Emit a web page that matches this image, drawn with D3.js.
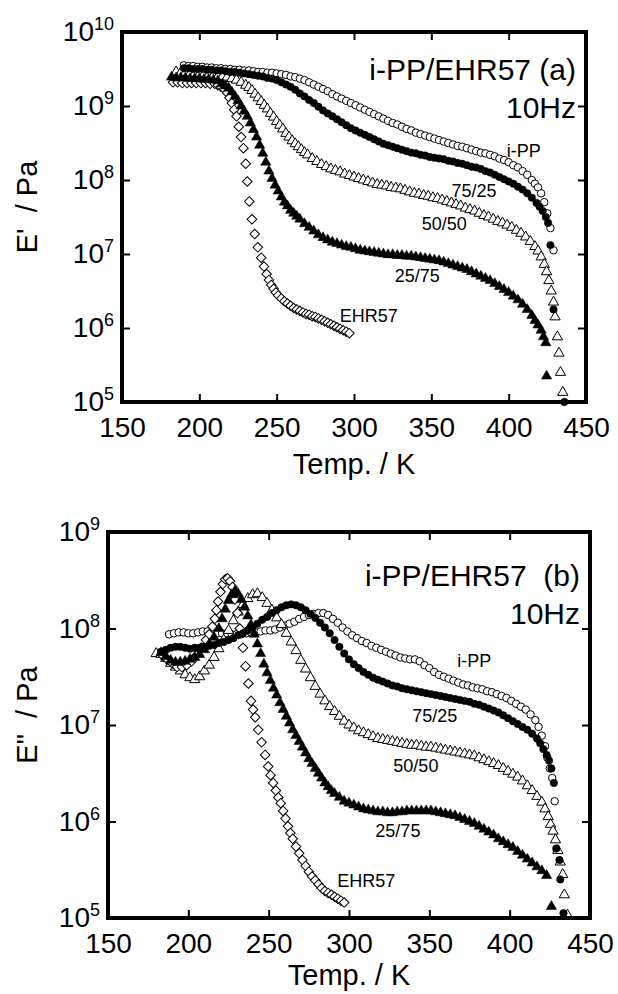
<!DOCTYPE html>
<html>
<head>
<meta charset="utf-8">
<script src="https://cdn.jsdelivr.net/npm/d3@7"></script>
<style>
  body { margin: 0; background: #fff; }
  svg text { font-family: "Liberation Sans", Arial, Helvetica, sans-serif; fill: #000; }
</style>
</head>
<body>
<svg id="chart" width="618" height="994"></svg>
<script>
// ---- data: [temperature K, log10(modulus / Pa)] ----

// (a) storage modulus E'
const storIPP = [
  [190,9.55],[193,9.54],[196,9.54],[199,9.53],[202,9.53],[205,9.52],[208,9.52],[211,9.51],[214,9.51],[217,9.50],
  [220,9.50],[223,9.49],[226,9.49],[229,9.48],[232,9.48],[235,9.47],[238,9.46],[241,9.46],[244,9.45],[247,9.45],
  [250,9.44],[253,9.43],[256,9.42],[259,9.40],[262,9.39],[265,9.37],[268,9.35],[271,9.32],[274,9.29],[277,9.26],
  [280,9.23],[283,9.20],[286,9.16],[289,9.13],[292,9.10],[295,9.07],[298,9.04],[301,9.01],[304,8.98],[307,8.95],
  [310,8.92],[313,8.89],[316,8.86],[319,8.83],[322,8.80],[325,8.77],[328,8.75],[331,8.72],[334,8.69],[337,8.67],
  [340,8.64],[343,8.62],[346,8.60],[349,8.58],[352,8.56],[355,8.54],[358,8.52],[361,8.50],[364,8.48],[367,8.46],
  [370,8.45],[373,8.43],[376,8.41],[379,8.39],[382,8.37],[385,8.36],[388,8.34],[391,8.32],[394,8.29],[397,8.27],
  [400,8.24],[403,8.20],[406,8.17],[409,8.12],[412,8.07],[415,8.00],[417,7.95],[419,7.90],[421,7.82],[423,7.70],
  [425,7.55],[427,7.35],[429,7.05]
];
const stor7525 = [
  [190,9.51],[193,9.51],[196,9.50],[199,9.50],[202,9.50],[205,9.49],[208,9.49],[211,9.48],[214,9.48],[217,9.47],
  [220,9.46],[223,9.46],[226,9.45],[229,9.44],[232,9.43],[235,9.42],[238,9.41],[241,9.40],[244,9.38],[247,9.37],
  [250,9.35],[253,9.32],[256,9.29],[259,9.26],[262,9.22],[265,9.17],[268,9.13],[271,9.08],[274,9.04],[277,8.99],
  [280,8.94],[283,8.90],[286,8.86],[289,8.82],[292,8.78],[295,8.74],[298,8.70],[301,8.67],[304,8.64],[307,8.61],
  [310,8.58],[313,8.55],[316,8.52],[319,8.49],[322,8.47],[325,8.45],[328,8.43],[331,8.41],[334,8.39],[337,8.37],
  [340,8.36],[343,8.34],[346,8.33],[349,8.31],[352,8.30],[355,8.29],[358,8.28],[361,8.26],[364,8.25],[367,8.23],
  [370,8.22],[373,8.20],[376,8.18],[379,8.17],[382,8.15],[385,8.12],[388,8.10],[391,8.07],[394,8.04],[397,8.01],
  [400,7.98],[403,7.95],[406,7.91],[409,7.87],[412,7.82],[415,7.76],[418,7.69],[420,7.64],[422,7.58],[424,7.50],
  [425.5,7.42],[427,7.12],[429,6.25],[436,5.0]
];
const stor5050 = [
  [185,9.46],[188,9.45],[191,9.45],[194,9.44],[197,9.44],[200,9.43],[203,9.43],[206,9.42],[209,9.41],[212,9.40],
  [215,9.40],[218,9.39],[221,9.37],[224,9.35],[227,9.32],[230,9.28],[232,9.25],[234,9.21],[236,9.16],[238,9.11],
  [240,9.06],[242,9.01],[244,8.96],[246,8.90],[248,8.85],[250,8.79],[252,8.74],[254,8.69],[256,8.63],[258,8.58],
  [260,8.53],[262,8.49],[264,8.45],[266,8.41],[268,8.37],[270,8.34],[273,8.29],[276,8.25],[279,8.21],[282,8.18],
  [285,8.15],[288,8.13],[291,8.11],[294,8.08],[297,8.06],[300,8.04],[303,8.02],[306,8.00],[309,7.98],[312,7.96],
  [315,7.94],[318,7.93],[321,7.92],[324,7.90],[327,7.89],[330,7.88],[333,7.86],[336,7.84],[339,7.82],[342,7.81],
  [345,7.79],[348,7.78],[351,7.76],[354,7.75],[357,7.73],[360,7.71],[363,7.69],[366,7.67],[369,7.65],[372,7.62],
  [375,7.60],[378,7.58],[381,7.55],[384,7.52],[387,7.50],[390,7.47],[393,7.44],[396,7.42],[399,7.39],[402,7.36],
  [405,7.32],[408,7.28],[411,7.23],[414,7.17],[417,7.10],[419,7.04],[421,6.96],[423,6.86],[424.5,6.76],[426,6.64],
  [427.5,6.50],[429,6.35],[430,6.15],[431.5,5.88],[432.5,5.66],[433.5,5.40],[435,5.13]
];
const stor2575 = [
  [182,9.39],[185,9.38],[188,9.38],[191,9.38],[194,9.37],[197,9.37],[200,9.37],[203,9.36],[206,9.36],[209,9.35],
  [212,9.34],[215,9.30],[217,9.27],[219,9.24],[221,9.19],[223,9.13],[225,9.07],[227,9.00],[229,8.93],[231,8.86],
  [233,8.77],[235,8.68],[237,8.58],[239,8.47],[241,8.36],[243,8.24],[245,8.12],[247,8.02],[249,7.93],[251,7.85],
  [253,7.77],[255,7.70],[257,7.65],[259,7.59],[261,7.55],[263,7.51],[265,7.47],[268,7.41],[271,7.36],[274,7.31],
  [277,7.26],[280,7.22],[283,7.19],[286,7.16],[289,7.14],[292,7.12],[295,7.10],[298,7.09],[301,7.07],[304,7.05],
  [307,7.04],[310,7.03],[313,7.02],[316,7.01],[319,7.00],[322,6.99],[325,6.99],[328,6.98],[331,6.98],[334,6.97],
  [337,6.97],[340,6.96],[343,6.95],[346,6.94],[349,6.93],[352,6.92],[355,6.91],[358,6.89],[361,6.87],[364,6.85],
  [367,6.83],[370,6.81],[373,6.79],[376,6.76],[379,6.73],[382,6.70],[385,6.67],[388,6.64],[391,6.60],[394,6.56],
  [397,6.52],[400,6.48],[403,6.43],[406,6.38],[409,6.32],[412,6.25],[415,6.17],[417,6.10],[419,6.04],[421,5.97],
  [422.5,5.88],[424,5.80],[424.5,5.35]
];
const storEHR = [
  [183,9.32],[186,9.32],[189,9.31],[192,9.31],[195,9.31],[198,9.31],[201,9.31],[204,9.31],[207,9.30],[210,9.30],
  [212,9.28],[214,9.26],[216,9.23],[218,9.18],[219.5,9.11],[221,9.04],[222.5,8.95],[224,8.86],[225.5,8.72],[227,8.58],
  [228.5,8.43],[230,8.22],[231,7.98],[232.3,7.71],[234,7.47],[235.8,7.27],[237.8,7.09],[240,6.95],[241.8,6.83],[243.5,6.73],
  [245,6.65],[246.5,6.58],[248,6.53],[249.5,6.48],[251,6.44],[253,6.40],[255,6.36],[257,6.33],[259,6.30],[261,6.27],
  [263,6.25],[265,6.23],[267,6.21],[269,6.19],[271,6.18],[273,6.16],[275,6.15],[277,6.13],[279,6.11],[281,6.09],
  [283,6.07],[285,6.05],[287,6.03],[289,6.01],[291,5.99],[293,5.97],[295,5.95],[297,5.93]
];

// (b) loss modulus E"
const lossIPP = [
  [188,7.94],[191,7.95],[194,7.96],[197,7.96],[200,7.95],[203,7.95],[206,7.96],[209,7.97],[212,7.97],[215,7.96],
  [218,7.95],[221,7.95],[224,7.95],[227,7.94],[230,7.94],[233,7.94],[236,7.95],[239,7.96],[242,7.96],[245,7.97],
  [248,7.98],[251,7.98],[254,7.99],[257,8.01],[260,8.03],[263,8.05],[266,8.07],[269,8.10],[272,8.12],[275,8.14],
  [278,8.15],[281,8.16],[284,8.16],[287,8.14],[290,8.10],[293,8.06],[296,8.01],[299,7.97],[302,7.93],[305,7.90],
  [308,7.87],[311,7.85],[314,7.82],[317,7.80],[320,7.78],[323,7.76],[326,7.74],[329,7.72],[332,7.70],[335,7.69],
  [338,7.68],[341,7.68],[344,7.66],[347,7.62],[350,7.59],[353,7.55],[356,7.52],[359,7.50],[362,7.48],[365,7.46],
  [368,7.44],[371,7.42],[374,7.41],[377,7.39],[380,7.38],[383,7.37],[386,7.35],[389,7.34],[392,7.32],[395,7.30],
  [398,7.28],[401,7.25],[404,7.22],[407,7.19],[410,7.16],[413,7.11],[416,7.05],[418,6.98],[420,6.89],[422,6.78],
  [423.5,6.66],[425,6.55],[426.5,6.45],[428,6.21]
];
const loss7525 = [
  [183,7.76],[186,7.78],[189,7.80],[192,7.81],[195,7.81],[198,7.80],[201,7.79],[204,7.80],[207,7.80],[210,7.81],
  [213,7.82],[216,7.83],[219,7.85],[222,7.86],[225,7.88],[228,7.90],[231,7.93],[234,7.95],[237,7.98],[240,8.01],
  [243,8.05],[246,8.09],[249,8.12],[252,8.16],[255,8.19],[258,8.22],[261,8.24],[264,8.25],[267,8.24],[270,8.22],
  [273,8.19],[276,8.15],[279,8.11],[282,8.06],[285,8.01],[288,7.95],[291,7.88],[294,7.81],[297,7.74],[300,7.68],
  [303,7.63],[306,7.59],[309,7.55],[312,7.52],[315,7.49],[318,7.47],[321,7.45],[324,7.43],[327,7.41],[330,7.40],
  [333,7.38],[336,7.37],[339,7.36],[342,7.35],[345,7.34],[348,7.33],[351,7.32],[354,7.31],[357,7.30],[360,7.29],
  [363,7.28],[366,7.27],[369,7.26],[372,7.25],[375,7.24],[378,7.22],[381,7.21],[384,7.19],[387,7.17],[390,7.15],
  [393,7.13],[396,7.10],[399,7.07],[402,7.04],[405,7.01],[408,6.98],[411,6.95],[414,6.91],[417,6.86],[419,6.81],
  [421,6.75],[423,6.69],[424.5,6.63],[426,6.55],[427.5,6.40],[429,5.72],[431,5.60],[431.5,5.40],[433.5,5.05]
];
const loss5050 = [
  [180,7.74],[183,7.73],[186,7.69],[189,7.64],[192,7.60],[195,7.56],[198,7.52],[201,7.49],[204,7.47],[207,7.50],
  [210,7.56],[213,7.62],[216,7.70],[219,7.79],[222,7.88],[225,7.98],[228,8.08],[231,8.17],[234,8.25],[237,8.31],
  [240,8.35],[243,8.36],[246,8.32],[249,8.26],[252,8.19],[255,8.11],[258,8.04],[261,7.95],[264,7.86],[267,7.77],
  [270,7.67],[273,7.58],[276,7.49],[279,7.40],[282,7.32],[285,7.25],[288,7.19],[291,7.14],[294,7.09],[297,7.04],
  [300,7.00],[303,6.97],[306,6.94],[309,6.92],[312,6.90],[315,6.88],[318,6.86],[321,6.85],[324,6.84],[327,6.83],
  [330,6.82],[333,6.81],[336,6.80],[339,6.79],[342,6.79],[345,6.78],[348,6.77],[351,6.77],[354,6.76],[357,6.75],
  [360,6.74],[363,6.73],[366,6.72],[369,6.71],[372,6.70],[375,6.69],[378,6.68],[381,6.66],[384,6.64],[387,6.62],
  [390,6.60],[393,6.58],[396,6.55],[399,6.52],[402,6.49],[405,6.46],[408,6.42],[411,6.37],[414,6.32],[417,6.26],
  [420,6.20],[422,6.13],[424,6.05],[425.5,5.97],[427,5.90],[428.5,5.81],[430,5.70],[431.5,5.58],[433,5.45],[434,5.24],
  [436,5.03]
];
const loss2575 = [
  [183,7.75],[186,7.71],[189,7.67],[192,7.65],[195,7.65],[198,7.66],[201,7.68],[204,7.70],[207,7.73],[210,7.78],
  [213,7.84],[216,7.91],[219,8.00],[221,8.10],[223,8.20],[225,8.29],[227,8.35],[229,8.39],[231,8.36],[233,8.30],
  [235,8.22],[237,8.13],[239,8.04],[241,7.94],[243,7.84],[245,7.74],[247,7.63],[249,7.54],[251,7.46],[253,7.38],
  [255,7.31],[257,7.23],[259,7.16],[261,7.09],[263,7.02],[265,6.95],[267,6.89],[269,6.83],[271,6.77],[273,6.71],
  [275,6.65],[277,6.60],[279,6.55],[281,6.50],[283,6.45],[285,6.40],[287,6.36],[289,6.32],[291,6.29],[294,6.25],
  [297,6.21],[300,6.19],[303,6.17],[306,6.15],[309,6.13],[312,6.12],[315,6.11],[318,6.10],[321,6.10],[324,6.09],
  [327,6.09],[330,6.10],[333,6.10],[336,6.11],[339,6.11],[342,6.11],[345,6.11],[348,6.11],[351,6.11],[354,6.10],
  [357,6.09],[360,6.08],[363,6.07],[366,6.06],[369,6.04],[372,6.02],[375,6.00],[378,5.98],[381,5.95],[384,5.92],
  [387,5.89],[390,5.86],[393,5.82],[396,5.79],[399,5.76],[402,5.73],[405,5.69],[408,5.65],[411,5.61],[414,5.57],
  [417,5.53],[420,5.49],[423,5.44],[426,5.12]
];
const lossEHR = [
  [184,7.72],[187,7.68],[190,7.64],[193,7.60],[196,7.60],[199,7.62],[202,7.66],[205,7.72],[208,7.80],[211,7.88],
  [213,7.94],[215,8.02],[216.5,8.10],[217.5,8.19],[218.5,8.28],[220,8.38],[221.5,8.46],[223,8.51],[224.5,8.52],[226,8.49],
  [227.5,8.43],[229,8.30],[230.5,8.16],[232,8.00],[234,7.80],[235.6,7.61],[237.4,7.43],[239,7.25],[240.3,7.16],[241.6,7.08],
  [243.5,6.95],[245.6,6.82],[247.8,6.69],[249.7,6.57],[251.2,6.48],[252.8,6.40],[254.5,6.32],[256,6.25],[257.5,6.19],[259,6.11],
  [260.5,6.03],[262,5.95],[263.5,5.88],[265,5.82],[267,5.74],[269,5.67],[271,5.60],[273,5.54],[275,5.48],[277,5.43],
  [279,5.39],[281,5.35],[283,5.31],[285,5.28],[287,5.26],[289,5.24],[291,5.22],[293,5.20],[295,5.18],[297,5.16]
];

// tick values
const tempTicks = [150, 200, 250, 300, 350, 400, 450];
const modTicksA = [1e5, 1e6, 1e7, 1e8, 1e9, 1e10];
const modTicksB = [1e5, 1e6, 1e7, 1e8, 1e9];

// curve labels: [text, temperature, log10 modulus]
const labelsA = [["i-PP", 398.7, 8.31], ["75/25", 363, 7.77], ["50/50", 343.8, 7.32], ["25/75", 326.4, 6.62], ["EHR57", 290.8, 6.08]];
const labelsB = [["i-PP", 367.4, 7.60], ["75/25", 339.4, 7.03], ["50/50", 327.6, 6.51], ["25/75", 316.4, 5.84], ["EHR57", 292.7, 5.32]];

const svg = d3.select("#chart");

function styleAxis(ax) {
  ax.select(".domain").remove();
  ax.selectAll(".tick line").attr("stroke", "#000").attr("stroke-width", 2);
  ax.selectAll("text").style("font-size", "28px");
}

function drawPanel(p) {
  const g = svg.append("g");
  const x = d3.scaleLinear().domain([150, 450]).range([p.left, p.right]);
  const y = d3.scaleLog().domain([1e5, p.yMax]).range([p.bottom, p.top]);

  // markers (open ones first, filled drawn over them)
  p.series.forEach(s => {
    const type = s.shape === "triangle" ? d3.symbolTriangle
               : s.shape === "diamond" ? d3.symbolSquare : d3.symbolCircle;
    const size = s.shape === "circle" ? 44 : 46;
    const sym = d3.symbol().type(type).size(size);
    g.append("g").selectAll("path")
      .data(s.data)
      .join("path")
      .attr("transform", d => `translate(${x(d[0])},${y(10 ** d[1])})` + (s.shape === "diamond" ? " rotate(45)" : ""))
      .attr("d", sym)
      .attr("fill", s.filled ? "#000" : "#fff")
      .attr("stroke", "#000")
      .attr("stroke-width", s.filled ? 0.5 : 1);
  });

  // axes, ticks pointing inward on all four sides
  g.append("g")
    .attr("transform", `translate(0,${p.bottom})`)
    .call(d3.axisBottom(x).tickValues(tempTicks).tickSize(-8).tickSizeOuter(0).tickPadding(15))
    .call(styleAxis);

  g.append("g")
    .attr("transform", `translate(0,${p.top})`)
    .call(d3.axisTop(x).tickValues(tempTicks).tickSize(-8).tickSizeOuter(0).tickFormat(""))
    .call(styleAxis);

  g.append("g")
    .attr("transform", `translate(${p.left},0)`)
    .call(d3.axisLeft(y).tickValues(p.yTicks).tickSize(-8).tickSizeOuter(0).tickPadding(8))
    .call(styleAxis)
    .call(ax => ax.selectAll(".tick text").each(function(d) {
      const t = d3.select(this).text(null);
      t.append("tspan").text("10");
      t.append("tspan").attr("dy", -11).style("font-size", "18px").text(Math.round(Math.log10(d)));
    }));

  g.append("g")
    .attr("transform", `translate(${p.right},0)`)
    .call(d3.axisRight(y).tickValues(p.yTicks).tickSize(-8).tickSizeOuter(0).tickFormat(""))
    .call(styleAxis);

  g.append("rect")
    .attr("x", p.left).attr("y", p.top)
    .attr("width", p.right - p.left).attr("height", p.bottom - p.top)
    .attr("fill", "none").attr("stroke", "#000").attr("stroke-width", 4);

  // axis titles
  g.append("text")
    .attr("x", (p.left + p.right) / 2)
    .attr("y", p.xTitleY)
    .attr("text-anchor", "middle")
    .style("font-size", "29px")
    .text("Temp. / K");

  g.append("text")
    .attr("text-anchor", "middle")
    .attr("transform", `translate(37,${(p.top + p.bottom) / 2 - 10}) rotate(-90)`)
    .style("font-size", "29px")
    .style("white-space", "pre")
    .text(p.yTitle);

  // panel title
  g.append("text")
    .attr("x", p.right - 10).attr("y", p.titleY)
    .attr("text-anchor", "end")
    .style("font-size", "30px")
    .style("white-space", "pre")
    .text(p.title);

  g.append("text")
    .attr("x", p.right - 10).attr("y", p.titleY + 38)
    .attr("text-anchor", "end")
    .style("font-size", "30px")
    .text("10Hz");

  // curve labels
  g.append("g").selectAll("text")
    .data(p.labels)
    .join("text")
    .attr("x", d => x(d[1]))
    .attr("y", d => y(10 ** d[2]))
    .style("font-size", "18px")
    .text(d => d[0]);
}

drawPanel({
  left: 122, right: 586, top: 32, bottom: 402,
  yMax: 1e10, yTicks: modTicksA,
  yTitle: "E'  / Pa",
  title: "i-PP/EHR57 (a)", titleY: 80,
  xTitleY: 474,
  labels: labelsA,
  series: [
    { data: storIPP, shape: "circle", filled: false },
    { data: stor5050, shape: "triangle", filled: false },
    { data: storEHR, shape: "diamond", filled: false },
    { data: stor7525, shape: "circle", filled: true },
    { data: stor2575, shape: "triangle", filled: true }
  ]
});

drawPanel({
  left: 108, right: 590, top: 532, bottom: 918,
  yMax: 1e9, yTicks: modTicksB,
  yTitle: "E\"  / Pa",
  title: "i-PP/EHR57  (b)", titleY: 586,
  xTitleY: 985,
  labels: labelsB,
  series: [
    { data: lossIPP, shape: "circle", filled: false },
    { data: loss5050, shape: "triangle", filled: false },
    { data: lossEHR, shape: "diamond", filled: false },
    { data: loss7525, shape: "circle", filled: true },
    { data: loss2575, shape: "triangle", filled: true }
  ]
});
</script>
</body>
</html>
